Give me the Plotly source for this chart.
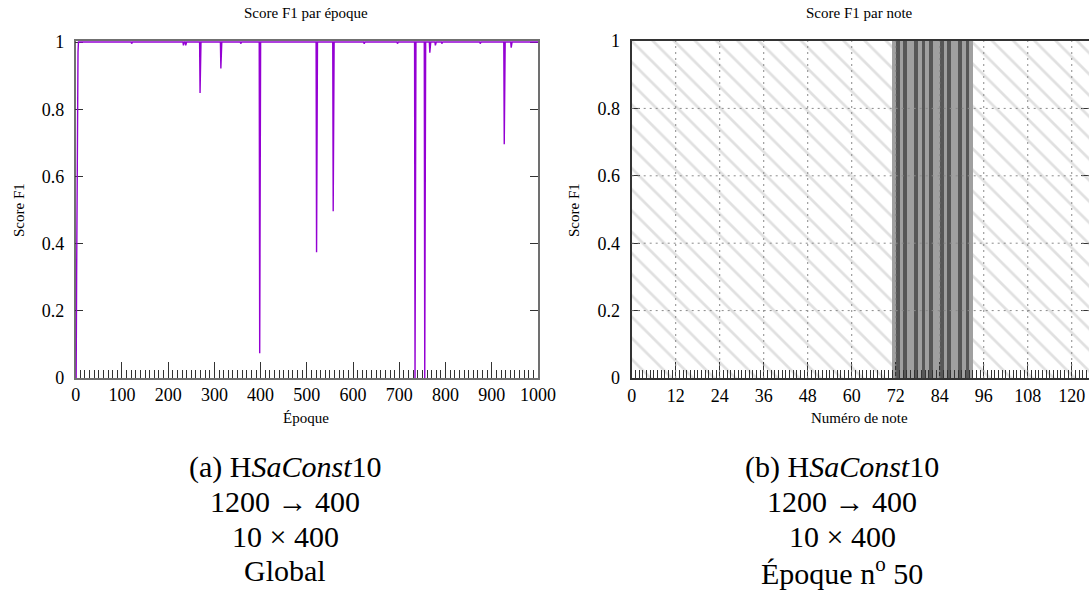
import numpy as np
import plotly.graph_objects as go

W, H = 1089, 591

# ---------------- data ----------------
# (a) F1 score per epoch: 1 everywhere except these read dips
n_epochs = 1000
dip_epochs = [0, 1, 2, 3, 4, 5, 121, 233, 238, 269, 314, 357, 398, 521, 557,
              624, 696, 734, 755, 766, 778, 792, 875, 927, 942]
dip_values = [0.0, 0.0, 0.3, 0.6, 0.85, 0.97, 0.995, 0.99, 0.99, 0.848, 0.921,
              0.995, 0.074, 0.374, 0.496, 0.995, 0.995, 0.0, 0.0, 0.968, 0.99,
              0.995, 0.995, 0.696, 0.983]

epochs = np.arange(n_epochs + 1)
f1_epoch = np.ones(n_epochs + 1)
f1_epoch[dip_epochs] = dip_values

# (b) F1 per note, epoch 50
note_max = 124.7
piece_notes = list(range(71, 93))               # light grey band
played_notes = [72, 74, 77, 79, 81, 84, 86, 89, 91]  # dark stripes

x1_ticks = list(range(0, 1001, 100))
x2_ticks = list(range(0, 121, 12))
y_ticks = [0, 0.2, 0.4, 0.6, 0.8, 1]
y_ticktext = ["0", "0.2", "0.4", "0.6", "0.8", "1"]

titles = ["Score F1 par époque", "Score F1 par note"]
xtitles = ["Époque", "Numéro de note"]
ytitle = "Score F1"
caption_a = ["(a) H<i>SaConst</i>10", "1200 → 400", "10 × 400", "Global"]
caption_b = ["(b) H<i>SaConst</i>10", "1200 → 400", "10 × 400", "Époque n<sup>o</sup> 50"]

FONT = "Liberation Serif, DejaVu Serif, serif"
PURPLE = "#9400d3"

fig = go.Figure()

fig.add_trace(go.Scatter(x=epochs, y=f1_epoch, mode="lines",
                         line=dict(color=PURPLE, width=1.4),
                         xaxis="x", yaxis="y", hoverinfo="skip"))

# hatched background of panel (b)
fig.add_trace(go.Bar(x=[0], y=[1], width=[note_max], offset=0,
                     marker=dict(color="white", line=dict(width=0),
                                 pattern=dict(shape="\\", fgcolor="#e0e0e0",
                                              bgcolor="white", size=15, solidity=0.18)),
                     xaxis="x2", yaxis="y2", hoverinfo="skip"))
fig.add_trace(go.Bar(x=piece_notes, y=[1] * len(piece_notes), width=1, offset=0,
                     marker=dict(color="#a0a0a0", line=dict(width=0)),
                     xaxis="x2", yaxis="y2", hoverinfo="skip"))
fig.add_trace(go.Bar(x=played_notes, y=[1] * len(played_notes), width=1, offset=0,
                     marker=dict(color="#575757", line=dict(width=0)),
                     xaxis="x2", yaxis="y2", hoverinfo="skip"))

ydom = [1 - 378 / H, 1 - 41 / H]
tickfont = dict(family=FONT, size=18, color="black")

common_x = dict(showgrid=False, zeroline=False, ticks="inside", ticklen=16,
                tickwidth=1, tickcolor="#333", showline=True, mirror=True,
                tickfont=tickfont, ticklabelstandoff=0, automargin=False)
common_y = dict(showgrid=False, zeroline=False, ticks="inside", ticklen=8,
                tickwidth=1, tickcolor="#333", showline=True, mirror="ticks",
                tickvals=y_ticks, ticktext=y_ticktext, tickfont=tickfont,
                ticklabelstandoff=6, automargin=False)

fig.update_layout(
    template="none",
    width=W, height=H, margin=dict(l=0, r=0, t=0, b=0, pad=0, autoexpand=False),
    paper_bgcolor="white", plot_bgcolor="white", showlegend=False,
    barmode="overlay", bargap=0,
    xaxis=dict(domain=[75.7 / W, 538 / W], range=[0, 1000], anchor="y",
               tickvals=x1_ticks, linecolor="#707070", linewidth=1.5,
               layer="below traces",
               minor=dict(dtick=10, tick0=0, ticks="inside", ticklen=8,
                          tickwidth=1, tickcolor="#333", showgrid=False),
               **common_x),
    yaxis=dict(domain=ydom, range=[0, 1.003], anchor="x",
               linecolor="#707070", linewidth=1.5, layer="below traces",
               **common_y),
    xaxis2=dict(domain=[631.7 / W, 1.0], range=[0, note_max], anchor="y2",
                tickvals=x2_ticks, linecolor="#333", linewidth=2,
                minor=dict(dtick=1, tick0=0, ticks="inside", ticklen=8,
                           tickwidth=1, tickcolor="#333", showgrid=False),
                **common_x),
    yaxis2=dict(domain=ydom, range=[0, 1], anchor="x2",
                linecolor="#333", linewidth=2, **common_y),
)

# dotted grid of panel (b), drawn above the bars
shapes = []
for v in x2_ticks[1:]:
    shapes.append(dict(type="line", xref="x2", yref="y2 domain", x0=v, x1=v, y0=0, y1=1,
                       line=dict(color="#8a8a8a", width=1, dash="2px,4px"), layer="above"))
for v in y_ticks[1:-1]:
    shapes.append(dict(type="line", xref="x2 domain", yref="y2", x0=0, x1=1, y0=v, y1=v,
                       line=dict(color="#8a8a8a", width=1, dash="2px,4px"), layer="above"))
fig.update_layout(shapes=shapes)

ann = []
def add(text, px, py, size, angle=0):
    ann.append(dict(text=text, x=px / W, y=1 - py / H, xref="paper", yref="paper",
                    showarrow=False, xanchor="center", yanchor="middle",
                    textangle=angle, font=dict(family=FONT, size=size, color="black")))

add(titles[0], 306, 13, 15)
add(titles[1], 859, 13, 15)
add(xtitles[0], 306, 418, 15)
add(xtitles[1], 859, 418, 15)
add(ytitle, 19, 210, 15, -90)
add(ytitle, 574, 210, 15, -90)
for i, (ta, tb) in enumerate(zip(caption_a, caption_b)):
    add(ta, 285, 467 + 34.5 * i, 30)
    add(tb, 842, 467 + 34.5 * i, 30)
fig.update_layout(annotations=ann)

fig.write_html("out.html")
